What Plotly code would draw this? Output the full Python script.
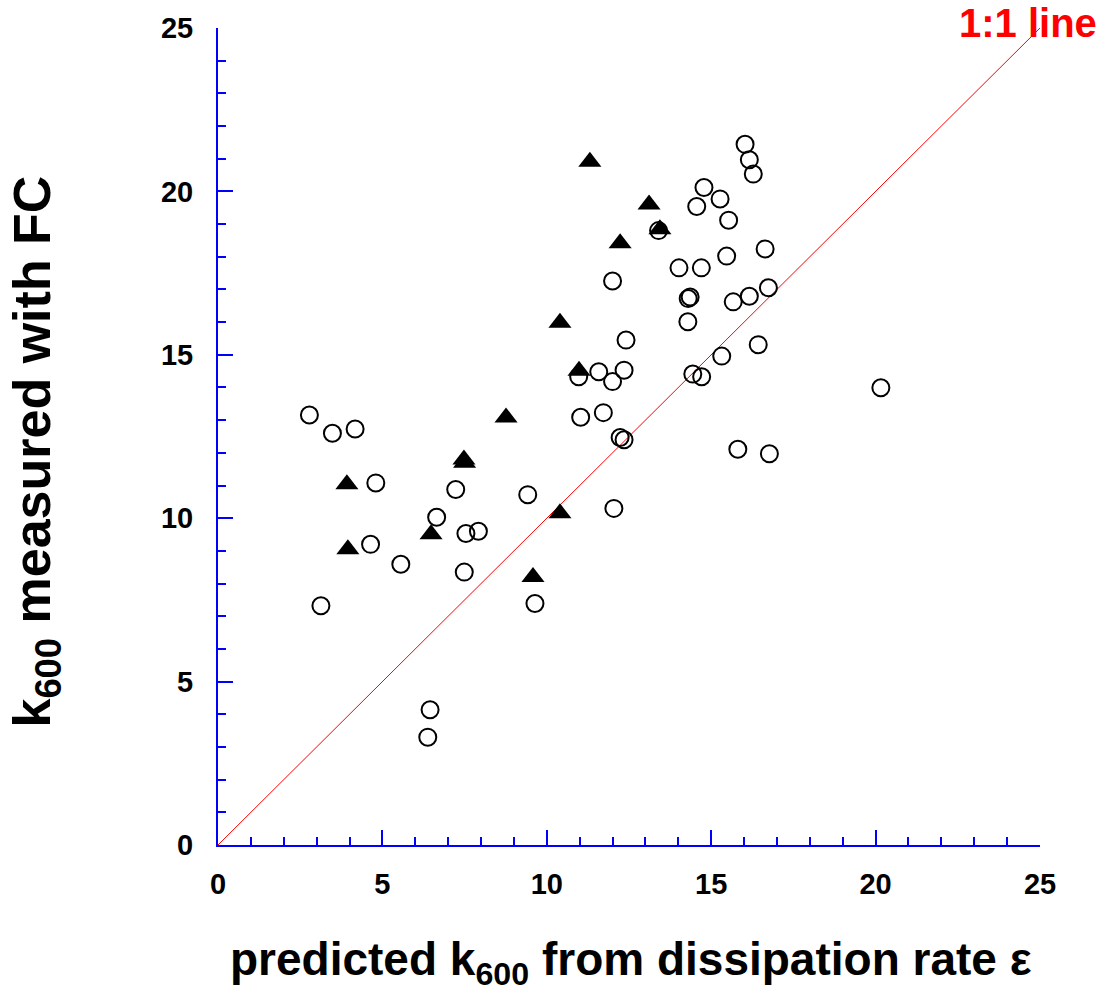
import plotly.graph_objects as go

# Open circles: predicted k600 (x) vs measured k600 (y)
circle_x = [2.78, 3.48, 4.17, 3.13, 4.80, 4.64, 5.56, 6.65, 6.45, 6.38, 7.23, 7.54, 7.92, 7.49,
            9.42, 9.64, 10.97, 11.03, 11.58, 11.72, 12.00, 12.00, 12.04, 12.23, 12.35, 12.35,
            12.41, 13.40, 14.02, 14.70, 14.36, 14.30, 14.29, 14.44, 14.71, 14.56, 14.78, 15.27,
            15.53, 15.47, 15.32, 15.67, 16.16, 16.64, 16.74, 16.43, 16.03, 16.16, 16.28, 15.81,
            16.77, 20.16]
circle_y = [13.16, 12.60, 12.73, 7.32, 11.08, 9.20, 8.59, 10.03, 4.14, 3.30, 10.88, 9.53, 9.60, 8.35,
            10.72, 7.39, 14.33, 13.09, 14.48, 13.23, 17.26, 14.18, 10.30, 12.47, 12.40, 14.53,
            15.45, 18.80, 17.66, 17.66, 16.77, 16.72, 16.01, 14.41, 14.33, 19.54, 20.12, 19.77,
            19.12, 18.02, 14.96, 16.62, 16.79, 18.24, 17.05, 15.31, 21.44, 20.97, 20.53, 12.11,
            11.97, 13.99]

# Filled triangles
tri_x = [11.31, 13.11, 13.44, 12.23, 10.40, 10.98, 8.76, 7.48, 7.50, 3.92, 6.48, 3.95, 10.40, 9.58]
tri_y = [20.91, 19.60, 18.84, 18.41, 15.98, 14.51, 13.08, 11.80, 11.70, 11.04, 9.51, 9.05, 10.15, 8.20]

# 1:1 line
line_x = [0, 25]
line_y = [0, 25]

tick_vals = [0, 5, 10, 15, 20, 25]
tick_text = ["0", "5", "10", "15", "20", "25"]

fig = go.Figure()
fig.add_trace(go.Scatter(x=line_x, y=line_y, mode="lines",
                         line=dict(color="#ff0000", width=1), hoverinfo="skip"))
fig.add_trace(go.Scatter(x=circle_x, y=circle_y, mode="markers",
                         marker=dict(symbol="circle-open", size=17, color="black",
                                     line=dict(width=2, color="black"))))
fig.add_trace(go.Scatter(x=tri_x, y=tri_y, mode="markers",
                         marker=dict(symbol="triangle-up", size=20, color="black",
                                     line=dict(width=0))))


def axis_style(standoff):
    return dict(
        range=[0, 25], showgrid=False, zeroline=False, showline=True,
        linecolor="#0000ff", linewidth=2,
        ticks="inside", ticklen=15, tickwidth=2, tickcolor="#0000ff",
        tickvals=tick_vals, ticktext=tick_text,
        tickfont=dict(family="Liberation Sans", size=29, color="black", weight="bold"),
        minor=dict(dtick=1, ticks="inside", ticklen=8, tickwidth=2, tickcolor="#0000ff",
                   showgrid=False),
        ticklabelstandoff=standoff,
    )


fig.update_layout(
    width=1115, height=1006,
    margin=dict(l=218, r=75, t=25, b=161),
    paper_bgcolor="white", plot_bgcolor="white",
    showlegend=False,
    xaxis=axis_style(12),
    yaxis=axis_style(17),
    annotations=[
        dict(text="predicted k<sub>600</sub> from dissipation rate ε",
             xref="paper", yref="paper", x=0.502, y=-0.105, xanchor="center", yanchor="top",
             showarrow=False,
             font=dict(family="Liberation Sans", size=46, color="black", weight="bold")),
        dict(text="k<sub>600</sub> measured with FC",
             xref="paper", yref="paper", x=-0.221, y=0.482, xanchor="center", yanchor="middle",
             textangle=-90, showarrow=False,
             font=dict(family="Liberation Sans", size=52, color="black", weight="bold")),
        dict(text="1:1 line",
             xref="paper", yref="paper", x=0.985, y=1.006, xanchor="center", yanchor="middle",
             showarrow=False,
             font=dict(family="Liberation Sans", size=40, color="#ff0000", weight="bold")),
    ],
)

fig.write_html("out.html")
